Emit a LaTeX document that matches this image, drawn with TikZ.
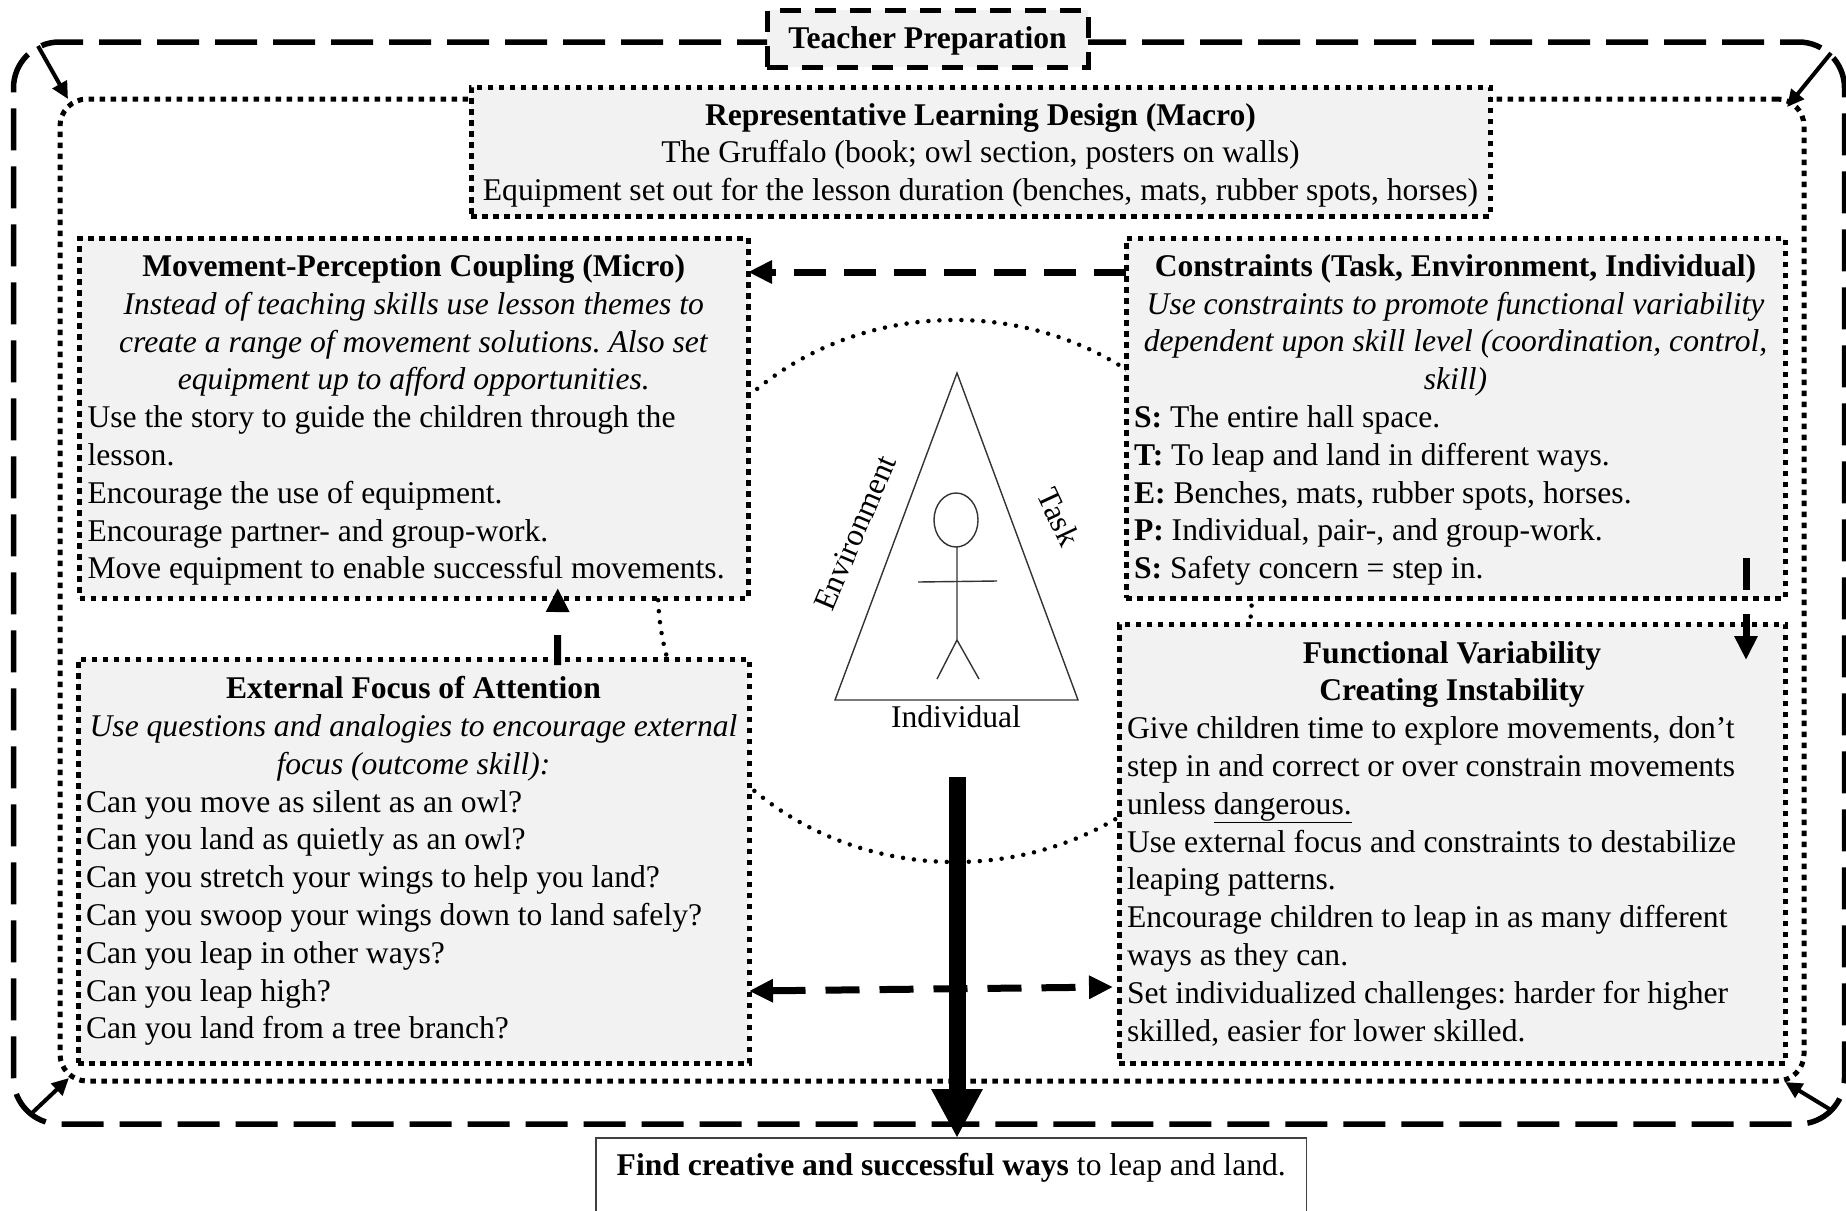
\documentclass[tikz,border=0pt]{standalone}
\usepackage{fontspec}
\setmainfont{Liberation Serif}
\usetikzlibrary{arrows.meta,calc}
\definecolor{boxgray}{HTML}{F2F2F2}
\newcommand{\ctl}[1]{\makebox[\hsize][c]{#1}}
\tikzset{
  every node/.style={font=\fontsize{31.6}{37.8}\selectfont\frenchspacing, outer sep=0pt},
  dotbox/.style={draw=black, fill=boxgray, line width=5pt, dash pattern=on 5.5pt off 5.5pt, inner xsep=8pt, inner ysep=0pt, align=flush left},
  teach/.style={draw=black, fill=boxgray, line width=5pt, dash pattern=on 21pt off 14pt, inner sep=0pt, align=center},
  outerline/.style={draw=black, line width=5.5pt, rounded corners=46pt, dash pattern=on 42pt off 16pt},
  innerframe/.style={draw=black, line width=5pt, rounded corners=27pt, dash pattern=on 5.5pt off 5.5pt, inner sep=0pt},
  findbox/.style={draw=black!75, line width=1.5pt, fill=white, inner sep=0pt, align=center},
  fig/.style={draw=black!80, line width=1.4pt},
  thin arrow/.style={draw=black, line width=4pt, -{Triangle[length=17pt,width=16pt]}},
  dash arrow/.style={draw=black, line width=7pt, -{Triangle[length=24pt,width=22pt]}},
  big arrow/.style={draw=black, line width=17pt, -{Triangle[length=49pt,width=48pt]}},
  circle dots/.style={draw=black, line width=4.5pt, line cap=round, dash pattern=on 0pt off 11pt},
}
\begin{document}
\begin{tikzpicture}[x=1pt,y=-1pt]
\useasboundingbox (0,0) rectangle (1846,1210);
% behind everything
\draw[circle dots] (955,591) ellipse [x radius=297pt, y radius=271pt];
\node[innerframe, minimum width=1744pt, minimum height=982pt] (inner) at (932,590) {};
% boxes
\node[teach, minimum width=321pt, minimum height=57pt, text height=27pt, text depth=7pt] (teacher) at (927.5,38.5) {\textbf{Teacher Preparation}};
\coordinate (frametl) at (13.5,42);
\coordinate (framebr) at (1844.5,1124);
\coordinate (framebm) at (957,1124);
\draw[outerline, dash phase=12pt] (teacher.west |- frametl) -| (frametl |- framebr) -- (framebm);
\draw[outerline, dash phase=4pt] (teacher.east |- frametl) -| (framebr) -- (framebm);
\node[dotbox, text width=1003pt, minimum height=129pt] (rld) at (980.5,151.5) {%
\ctl{\rule{0pt}{29.5pt}\textbf{Representative Learning Design (Macro)}}\\
\ctl{The Gruffalo (book; owl section, posters on walls)}\\
\ctl{Equipment set out for the lesson duration (benches, mats, rubber spots, horses)}};
\node[dotbox, text width=652.5pt, minimum height=360pt] (micro) at (413.75,418) {%
\ctl{\rule{0pt}{26pt}\textbf{Movement-Perception Coupling (Micro)}}\\
\ctl{\textit{Instead of teaching skills use lesson themes to}}\\
\ctl{\textit{create a range of movement solutions. Also set}}\\
\ctl{\textit{equipment up to afford opportunities.}}\\
Use the story to guide the children through the\\
lesson.\\
Encourage the use of equipment.\\
Encourage partner- and group-work.\\
Move equipment to enable successful movements.};
\node[dotbox, text width=643pt, minimum height=360pt] (cons) at (1455.5,418) {%
\ctl{\rule{0pt}{26pt}\textbf{Constraints (Task, Environment, Individual)}}\\
\ctl{\textit{Use constraints to promote functional variability}}\\
\ctl{\textit{dependent upon skill level (coordination, control,}}\\
\ctl{\textit{skill)}}\\
\textbf{S:} The entire hall space.\\
\textbf{T:} To leap and land in different ways.\\
\textbf{E:} Benches, mats, rubber spots, horses.\\
\textbf{P:} Individual, pair-, and group-work.\\
\textbf{S:} Safety concern = step in.};
\node[dotbox, text width=655pt, minimum height=404pt] (ext) at (413.5,861) {%
\ctl{\textbf{External Focus of Attention}}\\
\ctl{\textit{Use questions and analogies to encourage external}}\\
\ctl{\textit{focus (outcome skill):}}\\
Can you move as silent as an owl?\\
Can you land as quietly as an owl?\\
Can you stretch your wings to help you land?\\
Can you swoop your wings down to land safely?\\
Can you leap in other ways?\\
Can you leap high?\\
Can you land from a tree branch?};
\node[dotbox, text width=650pt, minimum height=439pt] (func) at (1452,843.5) {%
\ctl{\textbf{Functional Variability}}\\
\ctl{\textbf{Creating Instability}}\\
Give children time to explore movements, don’t\\
step in and correct or over constrain movements\\
unless \underline{dangerous.}\\
Use external focus and constraints to destabilize\\
leaping patterns.\\
Encourage children to leap in as many different\\
ways as they can.\\
Set individualized challenges: harder for higher\\
skilled, easier for lower skilled.};
\node[findbox, anchor=north west, minimum width=710.5pt, minimum height=78pt, text height=35pt, text depth=39pt] (find) at (596,1138) {\textbf{Find creative and successful ways} to leap and land.};
% triangle and figure
\coordinate (apex) at (957,373);
\coordinate (tl) at (835,700);
\coordinate (tr) at (1078,700);
\draw[fig] (apex) -- (tl) -- (tr) -- cycle;
\draw[fig] (956,520) ellipse [x radius=22pt, y radius=27pt];
\draw[fig] (957,547) -- (957,640) -- (937,679);
\draw[fig] (957,640) -- (979,679);
\draw[fig] (918,582) -- (997,581);
\node[rotate=67] (envlabel) at (855,533) {Environment};
\node[rotate=-65] (tasklabel) at (1059,517) {Task};
\node (indlabel) at (956,717) {Individual};
% corner arrows
\coordinate (c1) at (38,46); \coordinate (c2) at (68,99);
\coordinate (c3) at (1831,53); \coordinate (c4) at (1787,107);
\coordinate (c5) at (32,1113); \coordinate (c6) at (69,1078);
\coordinate (c7) at (1831,1110); \coordinate (c8) at (1785,1082);
\draw[thin arrow] (c1) -- (c2);
\draw[thin arrow] (c3) -- (c4);
\draw[thin arrow] (c5) -- (c6);
\draw[thin arrow] (c7) -- (c8);
% dashed arrows
\draw[dash arrow, dash pattern=on 32pt off 18pt] ([yshift=-34pt]cons.north west) -- ([yshift=-34pt]micro.north east);
\draw[dash arrow, dash pattern=on 30pt off 24pt] ([xshift=144pt,yshift=-6pt]ext.north) -- ([xshift=144pt,yshift=10pt]micro.south);
\draw[dash arrow, dash pattern=on 32pt off 24pt] ([xshift=-39pt,yshift=40pt]cons.south east) -- ([xshift=-39pt,yshift=-36pt]func.north east);
\draw[{Triangle[length=24pt,width=22pt]}-{Triangle[length=24pt,width=22pt]}, draw=black, line width=7pt, dash pattern=on 34pt off 20pt] ([yshift=72pt]ext.south east) -- ([xshift=-6pt,yshift=76pt]func.south west);
\draw[big arrow] (957,777) -- (find.north -| 957,0);
\end{tikzpicture}
\end{document}
